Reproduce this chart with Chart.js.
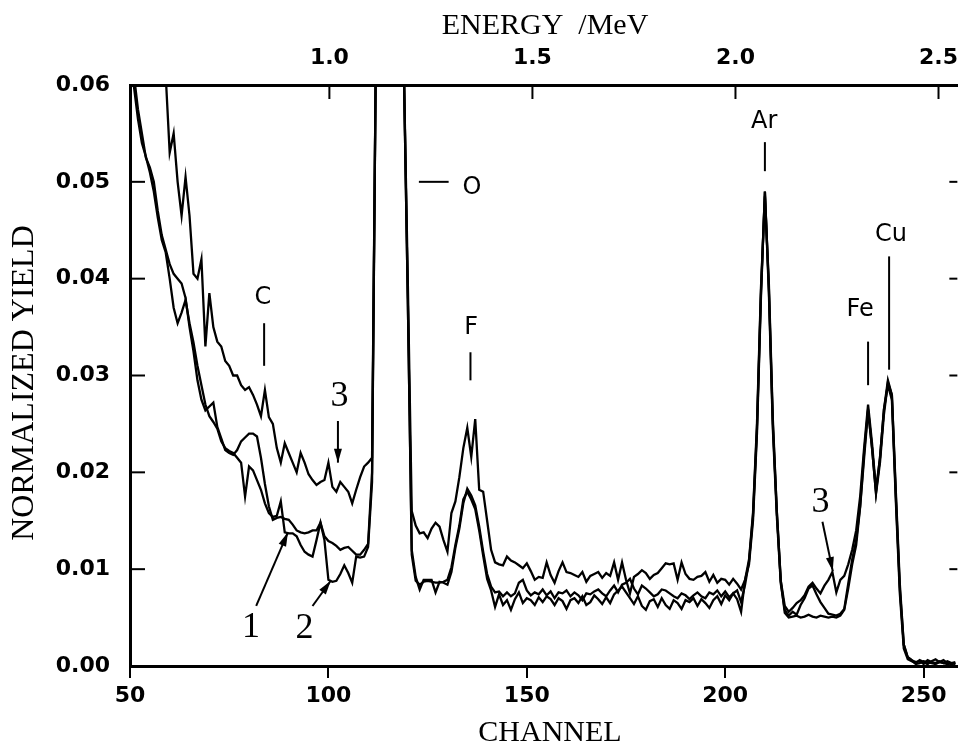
<!DOCTYPE html>
<html>
<head>
<meta charset="utf-8">
<script src="https://cdn.jsdelivr.net/npm/chart.js@4.4.1/dist/chart.umd.min.js"></script>
<style>
  html, body { margin: 0; padding: 0; background: #fff; }
  canvas { display: block; }
</style>
</head>
<body>
<canvas id="spectrum" width="964" height="748"></canvas>
<script>
// channel numbers (bottom axis)
const channels = [
  50, 51, 52, 53, 54, 55, 56, 57, 58, 59,
  60, 61, 62, 63, 64, 65, 66, 67, 68, 69,
  70, 71, 72, 73, 74, 75, 76, 77, 78, 79,
  80, 81, 82, 83, 84, 85, 86, 87, 88, 89,
  90, 91, 92, 93, 94, 95, 96, 97, 98, 99,
  100, 101, 102, 103, 104, 105, 106, 107, 108, 109,
  110, 111, 112, 113, 114, 115, 116, 117, 118, 119,
  120, 121, 122, 123, 124, 125, 126, 127, 128, 129,
  130, 131, 132, 133, 134, 135, 136, 137, 138, 139,
  140, 141, 142, 143, 144, 145, 146, 147, 148, 149,
  150, 151, 152, 153, 154, 155, 156, 157, 158, 159,
  160, 161, 162, 163, 164, 165, 166, 167, 168, 169,
  170, 171, 172, 173, 174, 175, 176, 177, 178, 179,
  180, 181, 182, 183, 184, 185, 186, 187, 188, 189,
  190, 191, 192, 193, 194, 195, 196, 197, 198, 199,
  200, 201, 202, 203, 204, 205, 206, 207, 208, 209,
  210, 211, 212, 213, 214, 215, 216, 217, 218, 219,
  220, 221, 222, 223, 224, 225, 226, 227, 228, 229,
  230, 231, 232, 233, 234, 235, 236, 237, 238, 239,
  240, 241, 242, 243, 244, 245, 246, 247, 248, 249,
  250, 251, 252, 253, 254, 255, 256, 257, 258
];

// normalized yield, in units of 1e-3 (axis labels show the real value)
const yield1 = [
  66, 61, 57.5, 55, 52.5, 51.5, 50, 47, 44.5, 43,
  41.5, 40.5, 40, 39.5, 38, 35, 32.5, 29.5, 27.5, 26.4,
  26.8, 27.2, 24.7, 23.5, 22.3, 22, 21.8, 22.3, 23.2, 23.6,
  24, 24, 23.7, 21.5, 18.8, 16.5, 15.1, 15.3, 15.4, 15.2,
  15.1, 14.6, 14, 13.8, 13.7, 13.8, 14, 14, 14.8, 13.4,
  12.9, 12.7, 12.4, 12, 12.2, 12.3, 11.9, 11.5, 11.5, 12,
  12.6, 20, 65, 160, 160, 160, 160, 160, 160, 62,
  38, 12, 9.2, 7.9, 8.9, 8.9, 8.9, 7.6, 8.7, 8.6,
  8.4, 9.7, 12.2, 14.2, 16.8, 18.3, 17.6, 16.6, 14.4, 11.8,
  9.5, 8.2, 7.6, 7.7, 7.2, 7.6, 7.2, 7.5, 8.6, 8.9,
  7.8, 7.3, 7.6, 7.4, 7.9, 7.3, 7.7, 7.0, 7.6, 7.5,
  7.8, 7.2, 7.6, 7.3, 6.8, 7.5, 7.4, 7.7, 7.9, 7.5,
  7.2, 7.8, 8.3, 7.6, 8.4, 8.6, 9.0, 8.0, 7.4, 8.3,
  8.0, 7.6, 7.2, 7.4, 7.9, 7.8, 7.5, 7.2, 7.0, 7.5,
  7.3, 6.9, 7.3, 7.6, 7.2, 7.0, 7.6, 7.4, 7.8, 7.2,
  7.7, 7.1, 7.5, 7.8, 6.6, 8.4, 10.8, 15.5, 24.5, 38.5,
  49, 38.5, 24.5, 15.5, 8.5, 5.8, 5.2, 5.6, 5.3, 6.3,
  7.0, 8.0, 8.3, 7.4, 6.6, 6.0, 5.4, 5.3, 5.2, 5.4,
  5.9, 8.5, 11, 13, 16.5, 22, 26.5, 22.5, 17.9, 21.5,
  26.5, 29, 27.5, 17, 7.5, 1.8, 0.7, 0.5, 0.3, 0.6,
  0.4, 0.2, 0.5, 0.7, 0.4, 0.3, 0.5, 0.3, 0.4
];

const yield2 = [
  64, 59.8, 56.5, 54, 52.6, 51, 49, 46.3, 44, 42.7,
  40, 37, 35.4, 36.5, 37.8, 35.4, 33.4, 31, 29, 27,
  25.8, 25.2, 24.5, 23.2, 22.5, 22.2, 22, 21.5, 21, 17.5,
  20.6, 20.2, 19.2, 18.2, 16.8, 15.8, 15.4, 15.5, 17, 13.8,
  13.7, 13.7, 13.4, 12.5, 11.8, 11.5, 11.3, 13, 14.8, 13,
  8.9, 8.7, 8.8, 9.5, 10.4, 9.6, 8.6, 11.3, 11.2, 11.3,
  12.3, 19, 65, 160, 160, 160, 160, 160, 160, 62,
  38, 11.5, 8.8, 8.4, 8.7, 8.8, 8.7, 8.6, 8.6, 8.7,
  8.9, 10.2, 12.5, 14.5, 17.2, 18, 17.2, 16.2, 14, 11.4,
  9.0, 7.8, 6.1, 7.4, 6.3, 6.8, 5.8, 6.9, 7.6, 6.5,
  7.0, 6.8, 6.3, 7.1, 6.6, 7.2, 6.9, 6.3, 7.0, 6.7,
  5.9, 6.8, 7.0, 6.5, 7.2, 6.3, 6.6, 7.3, 6.9, 6.4,
  7.1, 6.5, 7.4, 7.8, 8.2, 7.6, 7.0, 6.4, 7.2, 6.2,
  5.8, 6.7, 6.9, 6.1, 7.0, 6.3, 5.9, 6.8, 6.5, 5.9,
  6.8, 6.6, 7.0, 6.2, 6.9, 6.5, 6.0, 6.8, 7.2, 6.4,
  7.3, 6.8, 7.5, 6.9, 5.6, 8.9, 11, 15.8, 25, 39,
  48.5, 39.5, 25.5, 16, 8.8, 5.5, 5.0, 5.1, 5.2, 5.0,
  5.1, 5.3, 5.1, 5.0, 5.2, 5.1, 5.0, 5.1, 5.0, 5.2,
  5.8, 8, 10.5, 12.5, 16.4, 21.5, 26.4, 22.5, 17.8, 21,
  26, 29.3, 28, 18, 8.5, 2.2, 0.9, 0.6, 0.2, 0.3,
  0.5, 0.4, 0.3, 0.2, 0.4, 0.6, 0.3, 0.2, 0.3
];

const yield3 = [
  110, 104, 98, 92, 86, 80, 75, 70, 65, 61,
  53, 55, 50, 46.5, 50.5, 46.5, 40.5, 40, 42, 33,
  38.5, 35, 33.5, 33, 31.5, 31, 30, 30, 29, 28.5,
  28.8, 28, 27, 25.8, 28.5, 25.7, 25, 22.5, 21, 23,
  22, 21, 20, 22, 21, 19.8, 19.2, 18.7, 19, 19.2,
  21, 18.5, 18, 19, 18.5, 18, 16.8, 18.2, 19.5, 20.6,
  21, 21.5, 65, 160, 160, 160, 160, 160, 160, 62,
  40, 16, 14.5, 13.7, 13.8, 13.2, 14.2, 14.8, 14.4, 13,
  11.8, 15.8, 17, 19.5, 22.5, 24.6, 21.6, 25.5, 18.2, 18,
  15, 12, 10.7, 10.5, 10.4, 11.3, 10.9, 10.7, 10.4, 10.1,
  10.6, 9.8, 8.9, 9.2, 9.1, 10.7, 9.4, 8.6, 9.8, 10.7,
  9.7, 9.6, 9.4, 9.2, 9.7, 8.7, 9.3, 9.5, 9.7, 9.1,
  9.6, 9.3, 10.7, 8.9, 10.7, 8.9, 7.5, 9.2, 9.5, 9.9,
  9.6, 9.0, 9.4, 9.6, 10.1, 10.6, 10.5, 10.6, 8.9, 10.7,
  9.5, 9.0, 8.9, 9.2, 9.3, 9.7, 8.7, 9.4, 8.6, 9.0,
  8.9, 8.4, 9.0, 8.5, 7.9, 8.9, 10.5, 15, 24, 38,
  49, 39, 25, 16, 8.8, 6.2, 5.6, 6.0, 6.5, 6.8,
  7.3, 8.2, 8.6, 8.0, 7.5, 8.3, 8.9, 9.7, 7.6, 8.9,
  9.3, 10.5, 12, 14, 17.5, 22.5, 27, 23, 18.2, 21.5,
  26.5, 29.5, 28, 17.5, 8, 2.2, 0.9, 0.6, 0.4, 0.5,
  0.2, 0.6, 0.4, 0.3, 0.5, 0.3, 0.2, 0.3, 0.2
];

const channelTicks = [50, 100, 150, 200, 250];
const yieldTicks = [0, 10, 20, 30, 40, 50, 60];
const energyTicks = [1.0, 1.5, 2.0, 2.5];

// peak labels: [text, channel, yield] and marker lines [channel, yieldFrom, yieldTo]
const peakLabels = [
  ['C', 83.5, 38], ['O', 136.2, 49.4], ['F', 136, 34.9],
  ['Ar', 209.8, 56.2], ['Fe', 234, 36.8], ['Cu', 241.8, 44.5]
];
const peakLines = [
  [83.8, 35.4, 31], [135.8, 32.4, 29.5], [210, 54.1, 51.1],
  [236, 33.5, 29], [241.3, 42.3, 30.6]
];
// series labels with arrows: [text, channel, yield, arrow from (ch, y), arrow to (ch, y)]
const seriesLabels = [
  ['3', 102.8, 27.8, 102.4, 25.3, 102.4, 21.0],
  ['3', 224, 16.9, 224.5, 14.9, 227.1, 9.8],
  ['1', 80.5, 4.0, 81.8, 6.2, 89.8, 13.8],
  ['2', 94.0, 3.9, 96.0, 6.2, 100.6, 8.8]
];

const SANS = "'DejaVu Sans', sans-serif";
const SERIF = "'Liberation Serif', 'DejaVu Serif', serif";

function series(values) {
  return {
    data: channels.map((c, i) => ({ x: c, y: values[i] })),
    borderColor: '#000',
    borderWidth: 2.3,
    pointRadius: 0,
    tension: 0,
    fill: false
  };
}

function seg(ctx, x1, y1, x2, y2) {
  ctx.beginPath();
  ctx.moveTo(x1, y1);
  ctx.lineTo(x2, y2);
  ctx.stroke();
}

const decorations = {
  id: 'decorations',
  afterDraw(chart) {
    const { ctx, chartArea: a } = chart;
    const x = chart.scales.x, xE = chart.scales.xE, y = chart.scales.y;
    ctx.save();
    ctx.strokeStyle = '#000';
    ctx.fillStyle = '#000';
    ctx.lineWidth = 2;

    // inward ticks on left / right / top
    yieldTicks.slice(1, -1).forEach(v => {
      const py = y.getPixelForValue(v);
      seg(ctx, a.left, py, a.left + 15, py);
      seg(ctx, a.right - 8, py, a.right, py);
    });
    energyTicks.forEach(e => {
      const px = xE.getPixelForValue(e);
      seg(ctx, px, a.top, px, a.top + 14);
    });

    // axis titles
    ctx.textAlign = 'center';
    ctx.textBaseline = 'middle';
    ctx.font = '30px ' + SERIF;
    ctx.fillText('ENERGY  /MeV', 545, 26);
    ctx.fillText('CHANNEL', 550, 733);
    ctx.save();
    ctx.translate(25, 383);
    ctx.rotate(-Math.PI / 2);
    ctx.font = '32px ' + SERIF;
    ctx.fillText('NORMALIZED YIELD', 0, 0);
    ctx.restore();

    // element labels
    ctx.font = '24px ' + SANS;
    peakLabels.forEach(([t, c, v]) => {
      ctx.fillText(t, x.getPixelForValue(c), y.getPixelForValue(v));
    });
    ctx.lineWidth = 2;
    peakLines.forEach(([c, v1, v2]) => {
      const px = x.getPixelForValue(c);
      seg(ctx, px, y.getPixelForValue(v1), px, y.getPixelForValue(v2));
    });
    // dash next to O
    seg(ctx, x.getPixelForValue(122.8), y.getPixelForValue(50),
             x.getPixelForValue(130.3), y.getPixelForValue(50));

    // numbered series labels with arrows
    ctx.font = '36px ' + SERIF;
    seriesLabels.forEach(([t, c, v, c1, v1, c2, v2]) => {
      ctx.fillText(t, x.getPixelForValue(c), y.getPixelForValue(v));
      const x1 = x.getPixelForValue(c1), y1 = y.getPixelForValue(v1);
      const x2 = x.getPixelForValue(c2), y2 = y.getPixelForValue(v2);
      seg(ctx, x1, y1, x2, y2);
      const ang = Math.atan2(y2 - y1, x2 - x1);
      ctx.beginPath();
      ctx.moveTo(x2, y2);
      ctx.lineTo(x2 - 14 * Math.cos(ang) + 4 * Math.sin(ang), y2 - 14 * Math.sin(ang) - 4 * Math.cos(ang));
      ctx.lineTo(x2 - 14 * Math.cos(ang) - 4 * Math.sin(ang), y2 - 14 * Math.sin(ang) + 4 * Math.cos(ang));
      ctx.closePath();
      ctx.fill();
    });
    ctx.restore();
  }
};

Chart.defaults.font.family = SANS;
Chart.defaults.color = '#000';

const tickFont = { size: 22, weight: 'bold' };

new Chart(document.getElementById('spectrum'), {
  type: 'line',
  data: { datasets: [series(yield1), series(yield2), series(yield3)] },
  options: {
    responsive: false,
    animation: false,
    events: [],
    layout: { padding: 0 },
    plugins: { legend: { display: false }, tooltip: { enabled: false } },
    scales: {
      x: {
        type: 'linear',
        position: 'bottom',
        min: 50,
        max: 258.5,
        afterFit: s => { s.height = 82; },
        afterBuildTicks: s => { s.ticks = channelTicks.map(v => ({ value: v })); },
        ticks: { font: tickFont, padding: 5, callback: v => String(v) },
        grid: { drawOnChartArea: false, drawTicks: true, tickLength: 12, color: '#000', lineWidth: 2 },
        border: { display: true, color: '#000', width: 3 }
      },
      xE: {
        type: 'linear',
        position: 'top',
        min: 0.509,
        max: 2.5464,
        afterFit: s => { s.height = 85; },
        afterBuildTicks: s => { s.ticks = energyTicks.map(v => ({ value: v })); },
        ticks: { font: tickFont, padding: 6, callback: v => v.toFixed(1) },
        grid: { display: false },
        border: { display: true, color: '#000', width: 3 }
      },
      y: {
        type: 'linear',
        position: 'left',
        min: 0,
        max: 60,
        afterFit: s => { s.width = 130; },
        afterBuildTicks: s => { s.ticks = yieldTicks.map(v => ({ value: v })); },
        ticks: { font: tickFont, padding: 12, callback: v => (v / 1000).toFixed(2) },
        grid: { display: false },
        border: { display: true, color: '#000', width: 3 }
      }
    }
  },
  plugins: [decorations]
});
</script>
</body>
</html>
